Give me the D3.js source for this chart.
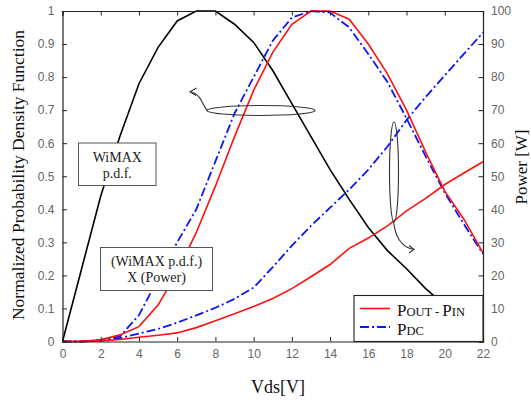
<!DOCTYPE html>
<html><head><meta charset="utf-8">
<script src="https://cdn.jsdelivr.net/npm/d3@7"></script>
<style>body{margin:0;background:#fff}svg{display:block}</style>
</head><body>
<svg id="c" width="531" height="400"></svg>
<script>
const vds = [0,1,2,3,4,5,6,7,8,9,10,11,12,13,14,15,16,17,18,19,20,21,22];
const pdfV = [0,1,2,3,4,5,6,7,7.5,8,9,10,11,12,13,14,15,16,17,18,19,20,21,22];
const pdf = [0,0.22,0.44,0.62,0.78,0.89,0.97,1.0,1.0,1.0,0.96,0.905,0.82,0.72,0.62,0.52,0.43,0.345,0.275,0.22,0.16,0.11,0.07,0.04];
const pdfOut = [0,0,0.005,0.02,0.045,0.11,0.21,0.33,0.47,0.62,0.76,0.875,0.96,1.0,1.0,0.975,0.90,0.81,0.70,0.573,0.455,0.37,0.268];
const pdfDC = [0,0,0.005,0.015,0.08,0.19,0.30,0.40,0.545,0.69,0.80,0.91,0.98,1.0,0.995,0.95,0.87,0.785,0.675,0.56,0.45,0.355,0.265];
const pOut = [0,0.05,0.2,0.6,1.3,1.9,2.6,4.2,6.3,8.4,10.6,13.0,16.0,19.6,23.3,28.2,31.3,35.0,39.5,43.3,47.5,51.0,54.4];
const pDC = [0,0,0.3,1.0,2.4,3.8,5.7,7.9,10.2,12.9,16.3,22.5,29.0,35.0,40.5,46.0,52.0,59.0,67.0,74.0,80.5,87.0,93.5];
const xTicks = [0,2,4,6,8,10,12,14,16,18,20,22];
const yLTicks = [0,0.1,0.2,0.3,0.4,0.5,0.6,0.7,0.8,0.9,1];
const yRTicks = [0,10,20,30,40,50,60,70,80,90,100];

const svg = d3.select("#c");
const L=62.5,R=483,T=11,B=341.5;
const x = d3.scaleLinear().domain([0,22]).range([L,R]);
const yL = d3.scaleLinear().domain([0,1]).range([B,T]);
const yR = d3.scaleLinear().domain([0,100]).range([B,T]);
const tickFont = "Liberation Sans, Arial, sans-serif";
const serif = "Liberation Serif, Times New Roman, serif";

// curves
const lineL = (xs, ys) => d3.line().x((d,i)=>x(xs[i])).y(d=>yL(d))(ys);
const lineR = (xs, ys) => d3.line().x((d,i)=>x(xs[i])).y(d=>yR(d))(ys);
const dash = "9,3,2,3";
svg.append("path").attr("d", lineL(pdfV, pdf)).attr("fill","none").attr("stroke","#000").attr("stroke-width",1.6);
svg.append("path").attr("d", lineR(vds, pDC)).attr("fill","none").attr("stroke","#0a14ff").attr("stroke-width",1.8).attr("stroke-dasharray",dash);
svg.append("path").attr("d", lineL(vds, pdfDC)).attr("fill","none").attr("stroke","#0a14ff").attr("stroke-width",1.8).attr("stroke-dasharray",dash);
svg.append("path").attr("d", lineR(vds, pOut)).attr("fill","none").attr("stroke","#ff1010").attr("stroke-width",1.6);
svg.append("path").attr("d", lineL(vds, pdfOut)).attr("fill","none").attr("stroke","#ff1010").attr("stroke-width",1.6);

// axes
const axG = svg.append("g");
const fmtL = d => d===0?"0":d===1?"1":d3.format(".1f")(d);
const aB = d3.axisBottom(x).tickValues(xTicks).tickSize(-4.5).tickPadding(8).tickFormat(d3.format("d"));
const aT = d3.axisTop(x).tickValues(xTicks).tickSize(-4.5).tickFormat("");
const aLft = d3.axisLeft(yL).tickValues(yLTicks).tickSize(-4.5).tickPadding(8).tickFormat(fmtL);
const aRgt = d3.axisRight(yR).tickValues(yRTicks).tickSize(-4.5).tickPadding(8).tickFormat(d3.format("d"));
function style(g){
  g.select(".domain").attr("stroke","#222").attr("stroke-width",1.2);
  g.selectAll(".tick line").attr("stroke","#222").attr("stroke-width",1);
  g.selectAll(".tick text").attr("fill","#666").style("font-family",tickFont).style("font-size","12px");
}
axG.append("g").attr("transform",`translate(0,${B})`).call(aB).call(style);
axG.append("g").attr("transform",`translate(0,${T})`).call(aT).call(style);
axG.append("g").attr("transform",`translate(${L},0)`).call(aLft).call(style);
axG.append("g").attr("transform",`translate(${R},0)`).call(aRgt).call(style);

// titles
svg.append("text").attr("transform","translate(24,175) rotate(-90)").attr("text-anchor","middle")
  .style("font-family",serif).style("font-size","17.5px").attr("fill","#111").text("Normalized Probability Density Function");
svg.append("text").attr("transform","translate(527,167) rotate(-90)").attr("text-anchor","middle")
  .style("font-family",serif).style("font-size","17px").attr("fill","#111").text("Power [W]");
svg.append("text").attr("x",278).attr("y",393).attr("text-anchor","middle")
  .style("font-family",serif).style("font-size","18px").attr("fill","#111").text("Vds[V]");

// text boxes
function tbox(x0,y0,x1,y1,lines,ys){
  svg.append("rect").attr("x",x0).attr("y",y0).attr("width",x1-x0).attr("height",y1-y0)
    .attr("fill","#fff").attr("stroke","#555").attr("stroke-width",1);
  lines.forEach((t,i)=>svg.append("text").attr("x",(x0+x1)/2).attr("y",ys[i]).attr("text-anchor","middle")
    .style("font-family",serif).style("font-size","14px").attr("fill","#222").text(t));
}
tbox(78.5,143,156,185.5,["WiMAX","p.d.f."],[162,178]);
tbox(100.5,247.5,212.5,290.5,["(WiMAX p.d.f.)","X (Power)"],[266,282]);

// ellipse annotations
const ann = svg.append("g").attr("fill","none").attr("stroke","#333").attr("stroke-width",1.1);
ann.append("ellipse").attr("cx",261).attr("cy",110.5).attr("rx",54).attr("ry",5);
ann.append("path").attr("d",d3.line().curve(d3.curveBasis)([[207,110.5],[203,104],[200,97.5],[195,93],[190,91.7]]));
ann.append("path").attr("d","M196.5,88 L190,91.7 L196,95.5");
ann.append("ellipse").attr("cx",394).attr("cy",172).attr("rx",4.5).attr("ry",50);
ann.append("path").attr("d",d3.line().curve(d3.curveBasis)([[393.5,222],[396,236],[403,245],[409,248.5],[414,249.5]]));
ann.append("path").attr("d","M409,245.5 L414,249.5 L409,253");

// legend
const lg = svg.append("g");
lg.append("rect").attr("x",354).attr("y",295.5).attr("width",R-354).attr("height",B-295.5)
  .attr("fill","#fff").attr("stroke","#222").attr("stroke-width",1.1);
lg.append("line").attr("x1",360).attr("x2",390).attr("y1",308.5).attr("y2",308.5).attr("stroke","#ff1010").attr("stroke-width",1.6);
lg.append("line").attr("x1",360).attr("x2",390).attr("y1",327).attr("y2",327).attr("stroke","#0a14ff").attr("stroke-width",1.8).attr("stroke-dasharray",dash);
const t1 = lg.append("text").attr("x",397).attr("y",315.5).style("font-family",serif).attr("fill","#111");
t1.append("tspan").style("font-size","17px").text("P");
t1.append("tspan").style("font-size","12.5px").text("OUT - ");
t1.append("tspan").style("font-size","17px").text("P");
t1.append("tspan").style("font-size","12.5px").text("IN");
const t2 = lg.append("text").attr("x",397).attr("y",334.5).style("font-family",serif).attr("fill","#111");
t2.append("tspan").style("font-size","17px").text("P");
t2.append("tspan").style("font-size","12.5px").text("DC");
</script>
</body></html>
